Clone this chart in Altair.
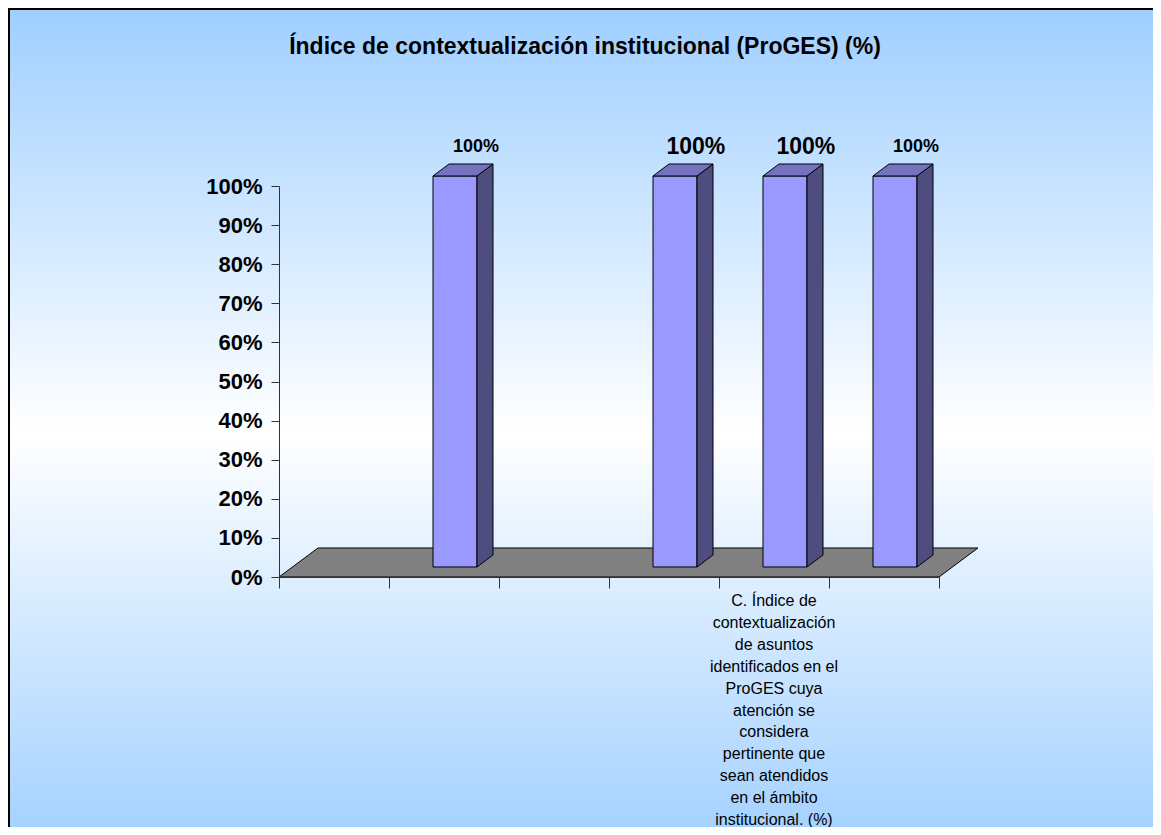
import altair as alt
import pandas as pd

# ---------------- data ----------------
categories = [
    "",
    "",
    "",
    "",
    "C. Índice de\ncontextualización\nde asuntos\nidentificados en el\nProGES cuya\natención se\nconsidera\npertinente que\nsean atendidos\nen el ámbito\ninstitucional. (%)",
    "",
]
values = [None, 100, None, 100, 100, 100]
title_text = "Índice de contextualización institucional (ProGES) (%)"
y_ticks = [0, 10, 20, 30, 40, 50, 60, 70, 80, 90, 100]

# ---------------- style ----------------
FONT = "Liberation Sans"
LABEL_SIZE = {1: 18, 3: 23, 4: 23, 5: 18}   # data-label font size per bar
FRONT_L, FRONT_R = 0.40, 0.80    # front face span inside a category (category units)
BASE = 2.56                      # elevation of the bar base above the floor front edge (y units)
DEP_X, DEP_Y = 0.1455, 3.07      # bar depth offset
FLOOR_X, FLOOR_Y = 0.3545, 7.42  # floor depth offset
LAB_X, LAB_Y = 0.79, 7.5         # data-label placement

n = len(categories)

front, side, top, labels = [], [], [], []
for i, v in enumerate(values):
    if v is None:
        continue
    front.append(dict(x=i + FRONT_L, x2=i + FRONT_R, y=BASE, y2=BASE + v))
    side.append(dict(bar=i, x=i + FRONT_R, y=BASE + v, y2=BASE))
    side.append(dict(bar=i, x=i + FRONT_R + DEP_X, y=BASE + v + DEP_Y, y2=BASE + DEP_Y))
    top.append(dict(bar=i, y=BASE + v, x=i + FRONT_L, x2=i + FRONT_R))
    top.append(dict(bar=i, y=BASE + v + DEP_Y, x=i + FRONT_L + DEP_X, x2=i + FRONT_R + DEP_X))
    labels.append(dict(x=i + LAB_X, y=BASE + v + LAB_Y, text=f"{v:.0f}%", size=LABEL_SIZE.get(i, 18)))

floor = pd.DataFrame([
    dict(y=0, x=0, x2=n),
    dict(y=FLOOR_Y, x=FLOOR_X, x2=n + FLOOR_X),
])
cat_df = pd.DataFrame([dict(x=i + 0.5, text=c) for i, c in enumerate(categories) if c])

X = alt.X(
    "x:Q",
    scale=alt.Scale(domain=[0, n], nice=False, zero=False),
    axis=alt.Axis(values=list(range(n + 1)), labels=False, title=None, grid=False,
                  tickSize=11, tickColor="#333333", domainColor="#333333", zindex=1),
)
Y = alt.Y(
    "y:Q",
    scale=alt.Scale(domain=[0, 100], nice=False, zero=False),
    axis=alt.Axis(values=y_ticks, labelExpr="datum.value + '%'", title=None, grid=False,
                  labelFont=FONT, labelFontSize=22, labelFontWeight="bold", labelColor="black",
                  tickSize=8, labelPadding=9, tickColor="#333333", domainColor="#333333", zindex=1),
)

bg_grad = alt.Gradient(
    gradient="linear",
    stops=[alt.GradientStop(color="#9fcfff", offset=0),
           alt.GradientStop(color="#ffffff", offset=0.5),
           alt.GradientStop(color="#9fcfff", offset=1)],
    x1=0, x2=0, y1=0, y2=1,
)
background = alt.Chart(pd.DataFrame({"a": [0]})).mark_rect(
    fill=bg_grad, stroke="black", strokeWidth=2
).encode(x=alt.value(-270), x2=alt.value(900), y=alt.value(-177), y2=alt.value(670))

title = alt.Chart(pd.DataFrame({"t": [title_text]})).mark_text(
    font=FONT, fontSize=23, fontWeight="bold", color="black", align="center", baseline="middle"
).encode(x=alt.value(306), y=alt.value(-139), text="t:N")

floor_layer = alt.Chart(floor).mark_area(
    orient="horizontal", fill="#808080", stroke="black", strokeWidth=1, opacity=1
).encode(y=Y, x=X, x2="x2:Q")

front_layer = alt.Chart(pd.DataFrame(front)).mark_rect(
    fill="#9999ff", stroke="black", strokeWidth=1
).encode(x=X, x2="x2:Q", y=Y, y2="y2:Q")

side_layer = alt.Chart(pd.DataFrame(side)).mark_area(
    orient="vertical", fill="#4d4d80", stroke="black", strokeWidth=1, opacity=1
).encode(x=X, y=Y, y2="y2:Q", detail="bar:N")

top_layer = alt.Chart(pd.DataFrame(top)).mark_area(
    orient="horizontal", fill="#7373bf", stroke="black", strokeWidth=1, opacity=1
).encode(y=Y, x=X, x2="x2:Q", detail="bar:N")

label_layer = alt.Chart(pd.DataFrame(labels)).mark_text(
    font=FONT, fontWeight="bold", color="black", align="center", baseline="middle"
).encode(x=X, y=Y, text="text:N", size=alt.Size("size:Q", scale=None, legend=None))

cat_layer = alt.Chart(cat_df).mark_text(
    font=FONT, fontSize=16, color="black", align="center", baseline="top",
    lineBreak="\n", lineHeight=21.9
).encode(x=X, y=alt.value(407), text="text:N")

chart = alt.layer(
    background, title, floor_layer, front_layer, side_layer, top_layer, label_layer, cat_layer
).properties(
    width=660, height=391,
    autosize=alt.AutoSizeParams(type="none"),
    padding={"left": 271, "top": 178, "right": 214, "bottom": 250},
    background="white",
).configure_view(stroke=None)

chart.save("out.html", embed_options={"renderer": "svg", "actions": False})
